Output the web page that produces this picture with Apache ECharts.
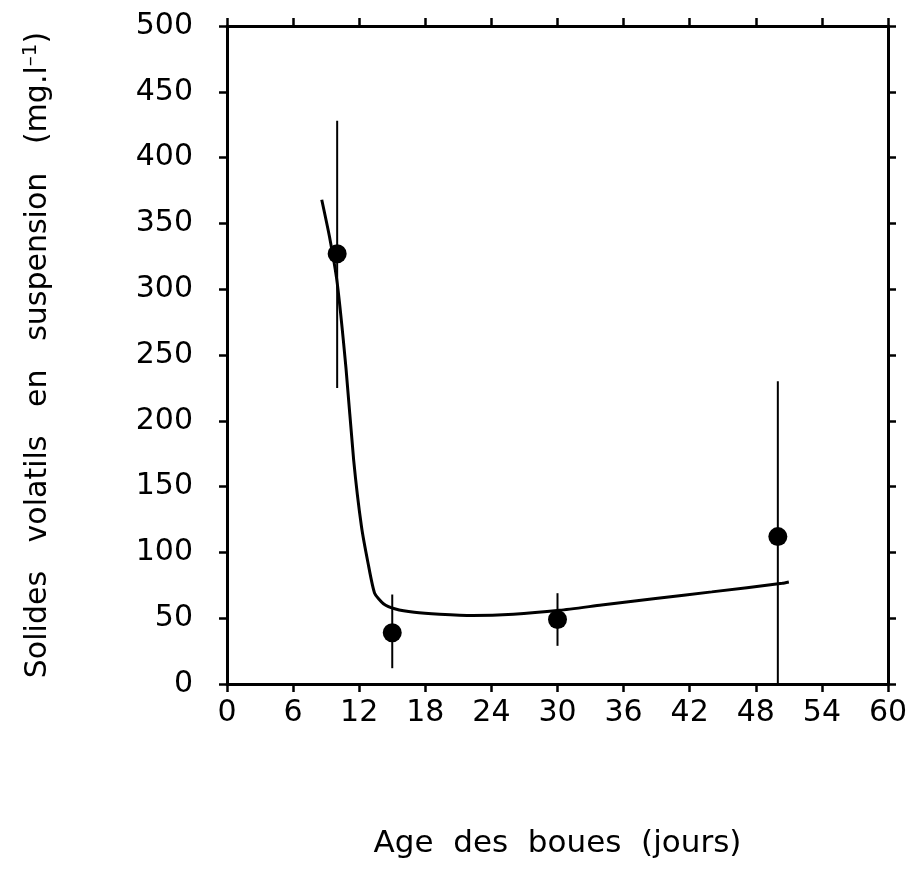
<!DOCTYPE html>
<html>
<head>
<meta charset="utf-8">
<script src="https://cdn.jsdelivr.net/npm/echarts@6/dist/echarts.min.js"></script>
<style>
  html, body { margin: 0; padding: 0; background: #fff; }
  #chart { width: 914px; height: 872px; }
</style>
</head>
<body>
<div id="chart"></div>
<script>
// measured points: age (days), mean, error bar low / high
var ages = [10, 15, 30, 50];
var means = [327, 39, 49, 112];
var errLow = [225, 12, 29, 0];
var errHigh = [428, 68, 69, 230];

// fitted curve
var curveX = [8.6, 9.3, 10.0, 10.8, 11.5, 12.2, 12.8, 13.4, 14.2, 15.3, 17.0, 19.3, 22.3, 26.0, 30.2, 34.0, 38.9, 44.0, 50.4, 51.0];
var curveY = [368, 340, 305, 240, 170, 120, 92, 69, 61, 57, 54.5, 53, 52, 53, 56, 60, 65, 70, 76.5, 77.5];

var font = 'DejaVu Sans';

var pts = ages.map(function (a, i) { return [a, means[i]]; });
var bars = ages.map(function (a, i) { return [a, errLow[i], errHigh[i]]; });
var curve = curveX.map(function (x, i) { return [x, curveY[i]]; });

var axisLine = { show: true, onZero: false, lineStyle: { color: '#000', width: 3 } };
var axisTick = { show: true, inside: false, length: 8, lineStyle: { color: '#000', width: 2.5 } };

var myChart = echarts.init(document.getElementById('chart'));
var option = {
    backgroundColor: '#fff',
    animation: false,
    grid: { left: 227, right: 26, top: 26, bottom: 188 },
    xAxis: [{
        type: 'value', min: 0, max: 60, interval: 6,
        position: 'bottom',
        axisLine: axisLine, axisTick: axisTick,
        splitLine: { show: false },
        axisLabel: { color: '#000', fontFamily: font, fontSize: 30, margin: 14 },
        name: 'Age  des  boues  (jours)',
        nameLocation: 'middle', nameGap: 144,
        nameTextStyle: { color: '#000', fontFamily: font, fontSize: 31 }
    }, {
        type: 'value', min: 0, max: 60, interval: 6,
        position: 'top',
        axisLine: axisLine, axisTick: axisTick,
        splitLine: { show: false },
        axisLabel: { show: false }
    }],
    yAxis: [{
        type: 'value', min: 0, max: 500, interval: 50,
        position: 'left',
        axisLine: axisLine, axisTick: axisTick,
        splitLine: { show: false },
        axisLabel: { color: '#000', fontFamily: font, fontSize: 30, margin: 34 },
        name: 'Solides   volatils   en   suspension   (mg.l{sup|–1})',
        nameLocation: 'middle', nameGap: 172,
        nameTextStyle: {
            color: '#000', fontFamily: font, fontSize: 30,
            rich: { sup: { fontFamily: font, fontSize: 20, color: '#000', verticalAlign: 'top', padding: [0, 0, 14, 0] } }
        }
    }, {
        type: 'value', min: 0, max: 500, interval: 50,
        position: 'right',
        axisLine: axisLine, axisTick: axisTick,
        splitLine: { show: false },
        axisLabel: { show: false }
    }],
    series: [{
        type: 'custom',
        data: bars,
        renderItem: function (params, api) {
            var top = api.coord([api.value(0), api.value(2)]);
            var bot = api.coord([api.value(0), api.value(1)]);
            return {
                type: 'line',
                shape: { x1: top[0], y1: top[1], x2: bot[0], y2: bot[1] },
                style: { stroke: '#000', lineWidth: 2 }
            };
        },
        z: 2
    }, {
        type: 'line',
        data: curve,
        smooth: 0.2,
        showSymbol: false,
        lineStyle: { color: '#000', width: 3 },
        z: 3
    }, {
        type: 'scatter',
        data: pts,
        symbol: 'circle',
        symbolSize: 19,
        itemStyle: { color: '#000', opacity: 1 },
        z: 4
    }]
};
myChart.setOption(option);
</script>
</body>
</html>
